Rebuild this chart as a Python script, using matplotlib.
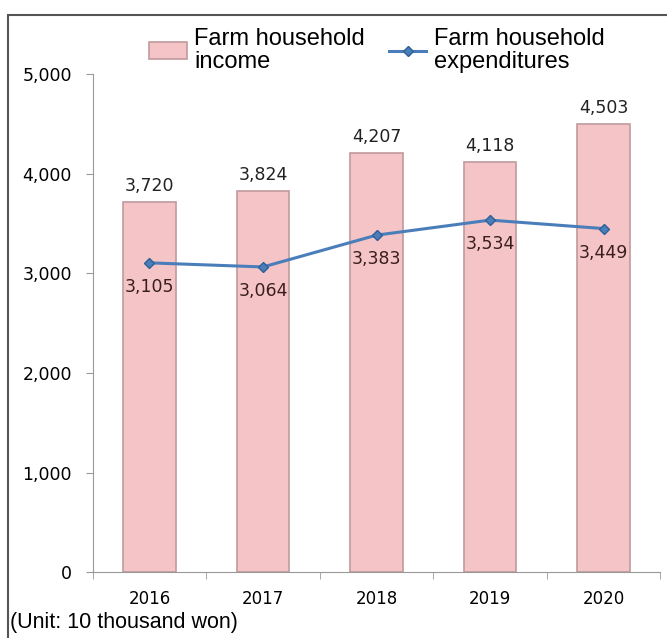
import matplotlib.pyplot as plt
import numpy as np
from matplotlib.patches import Rectangle

years = ["2016", "2017", "2018", "2019", "2020"]
income = [3720, 3824, 4207, 4118, 4503]
expenditures = [3105, 3064, 3383, 3534, 3449]

fig = plt.figure(figsize=(6.67, 6.38), dpi=100)
ax = fig.add_axes([0.139, 0.103, 0.851, 0.781])

x = np.arange(len(years))
bars = ax.bar(x, income, width=0.46, color="#f5c4c6", edgecolor="#c09a9c",
              linewidth=1.2, label="Farm household\nincome", zorder=2)
line, = ax.plot(x, expenditures, color="#4a7ebb", linewidth=2.2, marker="D",
                markersize=5.5, markerfacecolor="#4a7ebb", markeredgecolor="#2f5f95",
                label="Farm household\nexpenditures", zorder=3)

for xi, v in zip(x, income):
    ax.text(xi, v + 70, f"{v:,}", ha="center", va="bottom", fontsize=12.5,
            color="#222222")
for xi, v in zip(x, expenditures):
    ax.text(xi, v - 150, f"{v:,}", ha="center", va="top", fontsize=12.5,
            color="#3a1e1e")

ax.set_xlim(-0.5, 4.5)
ax.set_ylim(0, 5000)
ax.set_yticks([0, 1000, 2000, 3000, 4000, 5000])
ax.set_yticklabels(["0", "1,000", "2,000", "3,000", "4,000", "5,000"])
ax.set_xticks(x)
ax.set_xticklabels(years)
ax.set_xticks(np.arange(-0.5, 5, 1), minor=True)
ax.tick_params(axis="x", which="major", length=0, labelsize=12, pad=13)
ax.tick_params(axis="x", which="minor", length=5, color="#999999", direction="out")
ax.tick_params(axis="y", length=5, color="#999999", labelsize=12.5, pad=10)

for s in ["top", "right"]:
    ax.spines[s].set_visible(False)
ax.spines["left"].set_color("#999999")
ax.spines["bottom"].set_color("#999999")

leg = fig.legend([bars, line], ["Farm household\nincome", "Farm household\nexpenditures"],
                 loc="upper center", bbox_to_anchor=(0.565, 0.99), ncol=2,
                 frameon=False, prop={"family": "Liberation Sans", "size": 17},
                 handlelength=1.6, columnspacing=1.0, handletextpad=0.3,
                 labelspacing=0.2)
for t in leg.get_texts():
    t.set_linespacing(1.1)

fig.text(0.015, 0.008, "(Unit: 10 thousand won)", fontsize=15.5,
         family="Liberation Sans", ha="left", va="bottom")

fig.patches.append(Rectangle((0.012, -0.05), 1.0, 1.026, transform=fig.transFigure,
                             fill=False, edgecolor="#555555", linewidth=1.5))

fig.savefig("out.png", dpi=100)
